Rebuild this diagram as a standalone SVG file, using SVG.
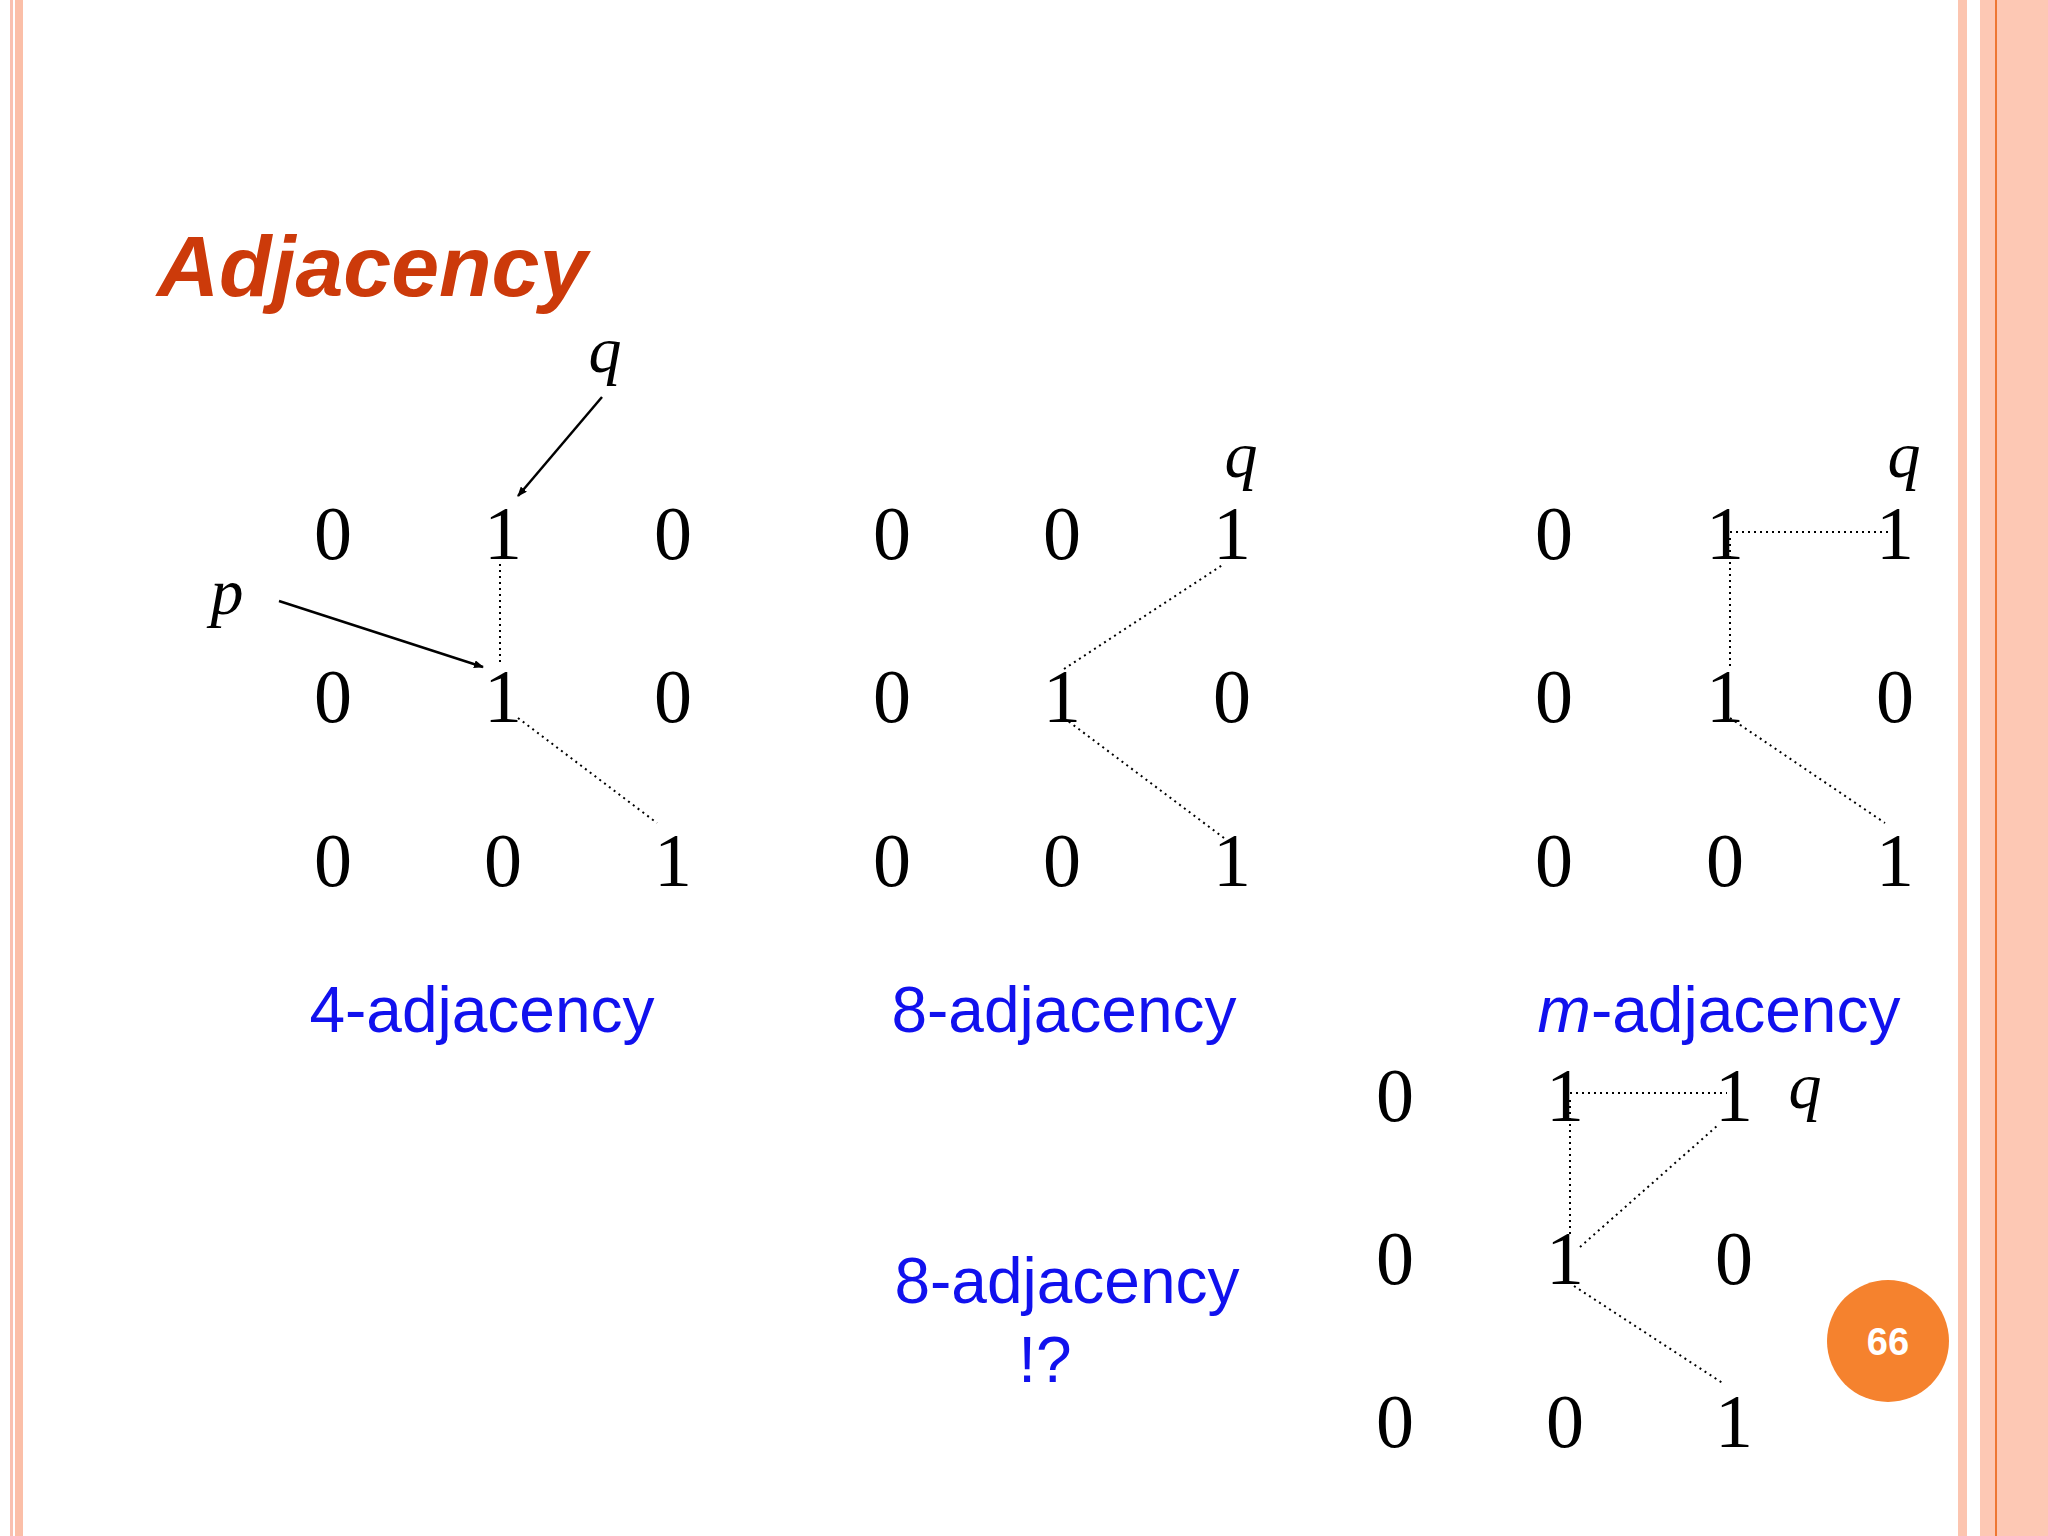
<svg xmlns="http://www.w3.org/2000/svg" width="2048" height="1536" viewBox="0 0 2048 1536">
<style>
.d{font-family:"Liberation Serif",serif;font-size:76px;text-anchor:middle;fill:#000}
.v{font-family:"Liberation Serif",serif;font-style:italic;font-size:66px;text-anchor:middle;fill:#000}
.l{font-family:"Liberation Sans",Arial,sans-serif;font-size:64px;text-anchor:middle;fill:#1111EE}
.dot{stroke:#000;stroke-width:2;stroke-dasharray:2 4;fill:none}
.ar{stroke:#000;stroke-width:2.5;fill:none;marker-end:url(#ah)}
</style>
<defs><marker id="ah" markerWidth="10" markerHeight="8" refX="9" refY="4" orient="auto" markerUnits="userSpaceOnUse" viewBox="0 0 10 8"><path d="M0,0L10,4L0,8z" fill="#000"/></marker></defs>
<rect width="2048" height="1536" fill="#fff"/>
<g id="frame">
<rect x="10" y="0" width="3" height="1536" fill="#F9C0B0"/>
<rect x="15" y="0" width="8" height="1536" fill="#FBBFA8"/>
<rect x="1958" y="0" width="9" height="1536" fill="#FCC5B0"/>
<rect x="1980" y="0" width="68" height="1536" fill="#FDC8B4"/>
<rect x="1995" y="0" width="2" height="1536" fill="#EE7733"/>
</g>
<text x="157" y="296" font-family="Liberation Sans,Arial,sans-serif" font-size="86" font-weight="bold" font-style="italic" fill="#CC3A0A">Adjacency</text>
<g id="grid1">
<text class="d" x="333" y="559">0</text><text class="d" x="503" y="559">1</text><text class="d" x="673" y="559">0</text>
<text class="d" x="333" y="722">0</text><text class="d" x="503" y="722">1</text><text class="d" x="673" y="722">0</text>
<text class="d" x="333" y="886">0</text><text class="d" x="503" y="886">0</text><text class="d" x="673" y="886">1</text>
<text class="v" x="605" y="372">q</text><text class="v" x="227" y="614">p</text>
<text class="l" x="482" y="1032">4-adjacency</text>
</g>
<g id="grid2">
<text class="d" x="892" y="559">0</text><text class="d" x="1062" y="559">0</text><text class="d" x="1232" y="559">1</text>
<text class="d" x="892" y="722">0</text><text class="d" x="1062" y="722">1</text><text class="d" x="1232" y="722">0</text>
<text class="d" x="892" y="886">0</text><text class="d" x="1062" y="886">0</text><text class="d" x="1232" y="886">1</text>
<text class="v" x="1241" y="477">q</text>
<text class="l" x="1064" y="1032">8-adjacency</text>
</g>
<g id="grid3">
<text class="d" x="1554" y="559">0</text><text class="d" x="1725" y="559">1</text><text class="d" x="1895" y="559">1</text>
<text class="d" x="1554" y="722">0</text><text class="d" x="1725" y="722">1</text><text class="d" x="1895" y="722">0</text>
<text class="d" x="1554" y="886">0</text><text class="d" x="1725" y="886">0</text><text class="d" x="1895" y="886">1</text>
<text class="v" x="1904" y="477">q</text>
<text class="l" x="1719" y="1032"><tspan font-style="italic">m</tspan>-adjacency</text>
</g>
<g id="grid4">
<text class="d" x="1395" y="1121">0</text><text class="d" x="1565" y="1121">1</text><text class="d" x="1734" y="1121">1</text>
<text class="d" x="1395" y="1284">0</text><text class="d" x="1565" y="1284">1</text><text class="d" x="1734" y="1284">0</text>
<text class="d" x="1395" y="1447">0</text><text class="d" x="1565" y="1447">0</text><text class="d" x="1734" y="1447">1</text>
<text class="v" x="1805" y="1108">q</text>
<text class="l" x="1067" y="1303">8-adjacency</text>
<text class="l" x="1045" y="1382">!?</text>
</g>
<g id="connectors">
<line class="ar" x1="602" y1="397" x2="518" y2="496"/>
<line class="ar" x1="279" y1="601" x2="483" y2="667"/>
<line class="dot" x1="500" y1="564" x2="500" y2="663"/>
<line class="dot" x1="518" y1="718" x2="657" y2="823"/>
<line class="dot" x1="1064" y1="669" x2="1224" y2="564"/>
<line class="dot" x1="1064" y1="718" x2="1224" y2="838"/>
<line class="dot" x1="1730" y1="532" x2="1890" y2="532"/>
<line class="dot" x1="1730" y1="538" x2="1730" y2="669"/>
<line class="dot" x1="1730" y1="718" x2="1885" y2="823"/>
<line class="dot" x1="1570" y1="1093" x2="1727" y2="1093"/>
<line class="dot" x1="1570" y1="1100" x2="1570" y2="1234"/>
<line class="dot" x1="1580" y1="1247" x2="1717" y2="1126"/>
<line class="dot" x1="1574" y1="1286" x2="1724" y2="1384"/>
</g>
<g id="page">
<circle cx="1888" cy="1341" r="61" fill="#F5822E"/>
<text x="1888" y="1355" font-family="Liberation Sans,Arial,sans-serif" font-size="38" font-weight="bold" fill="#fff" text-anchor="middle">66</text>
</g>
</svg>
